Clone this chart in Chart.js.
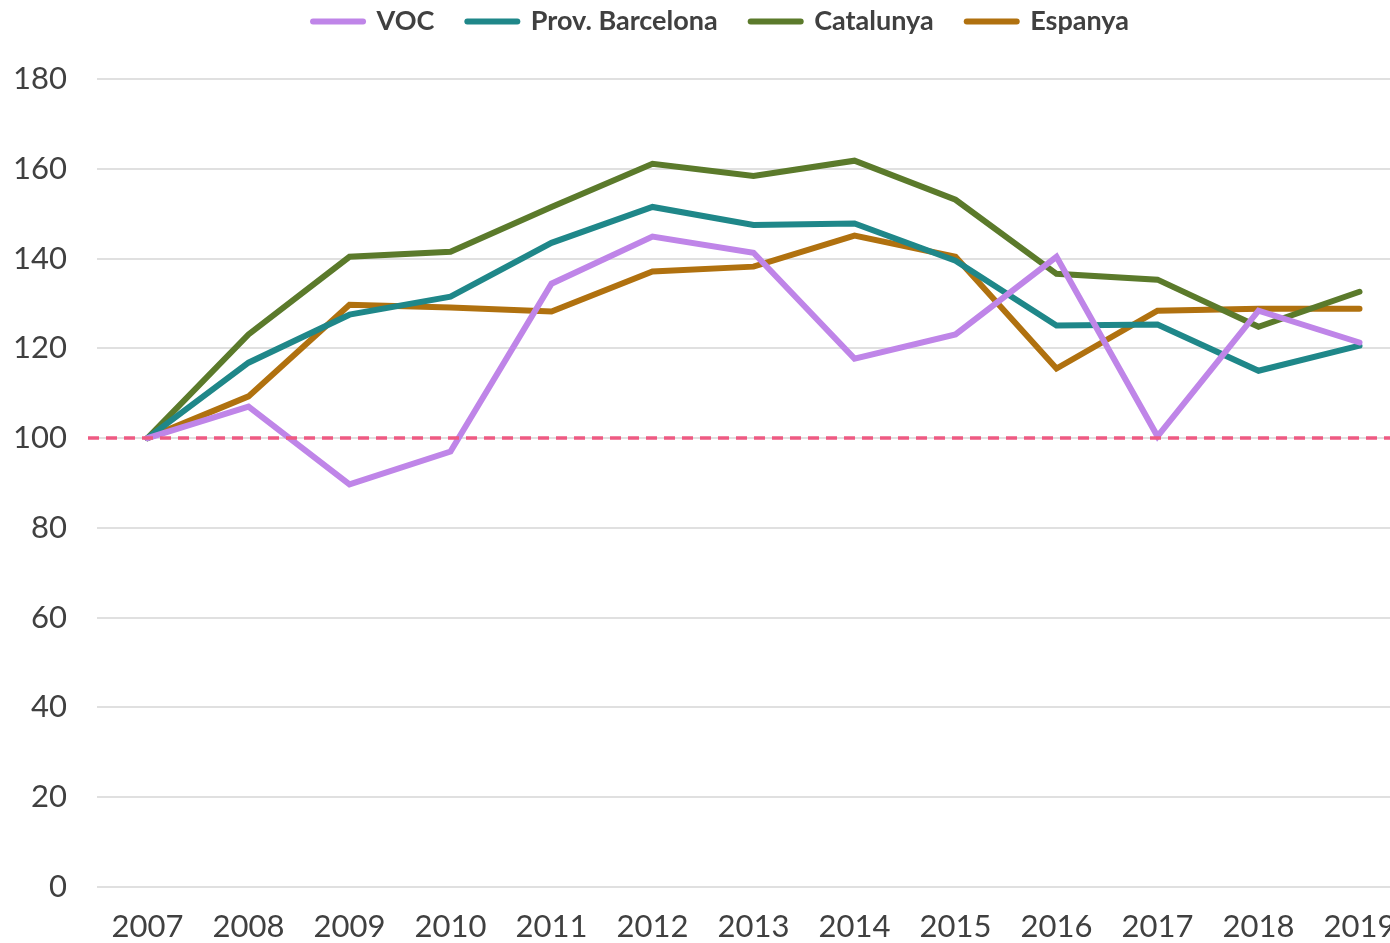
<!DOCTYPE html>
<html>
<head>
<meta charset="utf-8">
<script src="https://cdn.jsdelivr.net/npm/chart.js@4"></script>
<style>
html,body{margin:0;padding:0;background:#fff;overflow:hidden;}
#wrap{width:1420px;height:943px;}
</style>
</head>
<body>
<div id="wrap"><canvas id="c" width="1420" height="943"></canvas></div>
<script>
const years = ['2007','2008','2009','2010','2011','2012','2013','2014','2015','2016','2017','2018','2019'];
const voc       = [100, 107.0, 89.7, 97.0, 134.4, 144.9, 141.3, 117.7, 123.1, 140.4, 100.4, 128.4, 121.3];
const provBcn   = [100, 116.8, 127.5, 131.5, 143.5, 151.5, 147.5, 147.8, 139.5, 125.1, 125.3, 115.0, 120.6];
const catalunya = [100, 123.1, 140.4, 141.5, 151.5, 161.1, 158.4, 161.8, 153.1, 136.6, 135.3, 124.8, 132.6];
const espanya   = [100, 109.3, 129.7, 129.1, 128.2, 137.1, 138.2, 145.1, 140.4, 115.5, 128.4, 128.8, 128.8];
const yTicks = [0, 20, 40, 60, 80, 100, 120, 140, 160, 180];
const baseline = 100;

const textColor = '#404040';

const refLine = {
  id: 'refLine',
  afterDatasetsDraw(chart) {
    const {ctx, chartArea, scales} = chart;
    const y = scales.y.getPixelForValue(baseline);
    ctx.save();
    ctx.strokeStyle = '#EE5A82';
    ctx.lineWidth = 3.5;
    ctx.setLineDash([11, 7]);
    ctx.beginPath();
    ctx.moveTo(chartArea.left - 9, y);
    ctx.lineTo(chartArea.right, y);
    ctx.stroke();
    ctx.restore();
  }
};

const legendSpace = {
  id: 'legendSpace',
  afterInit(chart) {
    const lg = chart.legend;
    if (!lg || lg._patched) return;
    const f = lg.fit;
    lg.fit = function () { f.call(this); this.height += 9; };
    lg._patched = true;
  },
  afterLayout(chart) {
    const lg = chart.legend;
    if (!lg) return;
    lg.top -= 25;
    lg.bottom -= 25;
    lg.left += 16;
    lg.right += 16;
  }
};

function ds(label, data, color) {
  return {
    label, data,
    borderColor: color, backgroundColor: color,
    borderWidth: 6, pointRadius: 0, pointHoverRadius: 0,
    borderCapStyle: 'round',
    tension: 0, fill: false
  };
}

new Chart(document.getElementById('c'), {
  type: 'line',
  data: {
    labels: years,
    datasets: [
      ds('VOC', voc, '#BF85E8'),
      ds('Prov. Barcelona', provBcn, '#1F8789'),
      ds('Catalunya', catalunya, '#5B7A2B'),
      ds('Espanya', espanya, '#B0710F')
    ]
  },
  options: {
    responsive: false,
    animation: false,
    layout: { padding: { left: 0, right: 10, top: 0, bottom: 0 } },
    plugins: {
      tooltip: { enabled: false },
      legend: {
        position: 'top',
        labels: {
          color: textColor,
          font: { family: 'Lato', size: 27, weight: 'bold' },
          boxHeight: 6,
          usePointStyle: true,
          pointStyleWidth: 50,
          padding: 33,
          generateLabels(chart) {
            return chart.data.datasets.map((d, i) => ({
              text: d.label,
              fillStyle: d.borderColor,
              strokeStyle: d.borderColor,
              lineWidth: 6,
              lineCap: 'round',
              pointStyle: 'line',
              datasetIndex: i,
              hidden: false,
              fontColor: textColor
            }));
          }
        }
      }
    },
    scales: {
      x: {
        offset: true,
        grid: { display: false, drawTicks: false },
        border: { display: false },
        ticks: { color: textColor, font: { family: 'Lato', size: 31 }, padding: 21, maxRotation: 0, autoSkip: false },
        afterFit(axis) { axis.height = 56; }
      },
      y: {
        min: 0, max: 180,
        afterBuildTicks(axis) { axis.ticks = yTicks.map(v => ({ value: v })); },
        grid: { color: '#E0E0E0', lineWidth: 2, drawTicks: false },
        border: { display: false },
        ticks: { color: textColor, font: { family: 'Lato', size: 31 }, padding: 30 },
        afterFit(axis) { axis.width = 97; }
      }
    }
  },
  plugins: [refLine, legendSpace]
});
</script>
</body>
</html>
